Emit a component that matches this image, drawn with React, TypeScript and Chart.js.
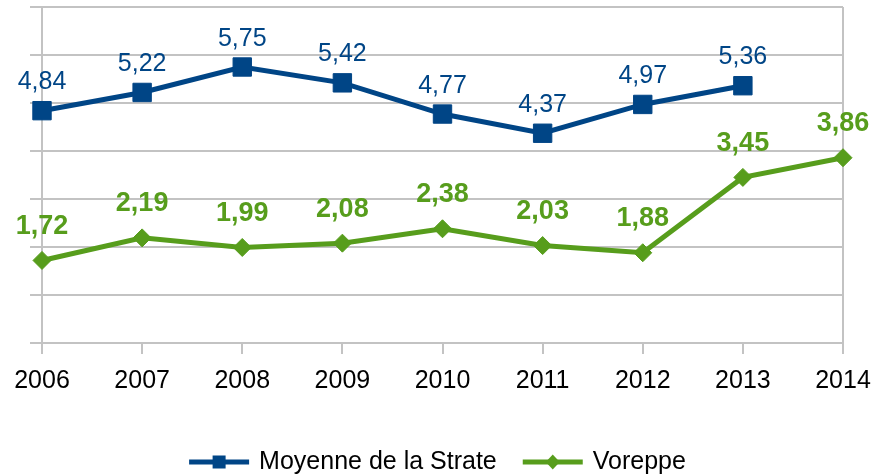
import React, { useEffect, useRef } from 'react';
import { Chart, registerables } from 'chart.js';

Chart.register(...registerables);

const years = ['2006', '2007', '2008', '2009', '2010', '2011', '2012', '2013', '2014'];
const moyenneStrate: (number | null)[] = [4.84, 5.22, 5.75, 5.42, 4.77, 4.37, 4.97, 5.36, null];
const voreppe: (number | null)[] = [1.72, 2.19, 1.99, 2.08, 2.38, 2.03, 1.88, 3.45, 3.86];
const seriesNames = ['Moyenne de la Strate', 'Voreppe'];
const yMin = 0;
const yMax = 7;
const yStep = 1;

const BLUE = '#004586';
const GREEN = '#579d1c';
const GRID = '#c3c3c3';
const FONT = "'Liberation Sans', Arial, sans-serif";

const fmt = (v: number) => v.toFixed(2).replace('.', ',');

const dataLabels = {
  id: 'dataLabels',
  afterDatasetsDraw(chart: any) {
    const ctx = chart.ctx;
    chart.data.datasets.forEach((ds: any, i: number) => {
      const meta = chart.getDatasetMeta(i);
      const bold = i === 1;
      ctx.save();
      ctx.font = `${bold ? 'bold 27px' : '25px'} ${FONT}`;
      ctx.fillStyle = ds.borderColor;
      ctx.textAlign = 'center';
      ctx.textBaseline = 'alphabetic';
      meta.data.forEach((pt: any, j: number) => {
        const v = ds.data[j];
        if (v == null) return;
        ctx.fillText(fmt(v), pt.x, pt.y - (bold ? 26.5 : 21.5));
      });
      ctx.restore();
    });
  },
};

const customLegend = {
  id: 'customLegend',
  afterDraw(chart: any) {
    const ctx = chart.ctx;
    ctx.save();
    ctx.font = `25px ${FONT}`;
    const sampleW = 60;
    const gapText = 10;
    const gapItems = 26;
    const items = chart.data.datasets.map((ds: any) => ({ ds, tw: ctx.measureText(ds.label).width }));
    const total =
      items.reduce((s: number, it: any) => s + sampleW + gapText + it.tw, 0) + gapItems * (items.length - 1);
    let x = (chart.width - total) / 2;
    const y = chart.height - 14;
    items.forEach(({ ds, tw }: any) => {
      ctx.strokeStyle = ds.borderColor;
      ctx.lineWidth = 5;
      ctx.beginPath();
      ctx.moveTo(x, y);
      ctx.lineTo(x + sampleW, y);
      ctx.stroke();
      ctx.fillStyle = ds.borderColor;
      const cx = x + sampleW / 2;
      if (ds.pointStyle === 'rect') {
        ctx.fillRect(cx - 6.5, y - 6.5, 13, 13);
      } else {
        ctx.beginPath();
        ctx.moveTo(cx - 7, y);
        ctx.lineTo(cx, y - 7.5);
        ctx.lineTo(cx + 7, y);
        ctx.lineTo(cx, y + 7.5);
        ctx.closePath();
        ctx.fill();
      }
      ctx.fillStyle = '#000';
      ctx.textAlign = 'left';
      ctx.textBaseline = 'middle';
      ctx.fillText(ds.label, x + sampleW + gapText, y);
      x += sampleW + gapText + tw + gapItems;
    });
    ctx.restore();
  },
};

export default function App() {
  const ref = useRef<HTMLCanvasElement | null>(null);
  useEffect(() => {
    document.body.style.margin = '0';
    if (!ref.current) return;
    const chart = new Chart(ref.current, {
      type: 'line',
      data: {
        labels: years,
        datasets: [
          {
            label: seriesNames[0],
            data: moyenneStrate,
            borderColor: BLUE,
            backgroundColor: BLUE,
            borderWidth: 5,
            pointStyle: 'rect',
            pointRadius: 13,
            pointHoverRadius: 13,
            pointBorderWidth: 1,
            pointBackgroundColor: BLUE,
            pointBorderColor: BLUE,
            tension: 0,
            clip: false,
          } as any,
          {
            label: seriesNames[1],
            data: voreppe,
            borderColor: GREEN,
            backgroundColor: GREEN,
            borderWidth: 5,
            pointStyle: 'rectRot',
            pointRadius: 9,
            pointHoverRadius: 9,
            pointBorderWidth: 1,
            pointBackgroundColor: GREEN,
            pointBorderColor: GREEN,
            tension: 0,
            clip: false,
          } as any,
        ],
      },
      options: {
        animation: false,
        responsive: false,
        maintainAspectRatio: false,
        layout: { autoPadding: false, padding: { left: 30, right: 32, top: 7, bottom: 68 } },
        plugins: {
          legend: { display: false },
          tooltip: { enabled: false },
        },
        scales: {
          x: {
            offset: false,
            afterFit: (s: any) => {
              s.paddingLeft = 0;
              s.paddingRight = 0;
            },
            grid: {
              color: (c: any) => (c.index === 0 || c.index === years.length - 1 ? GRID : 'rgba(0,0,0,0)'),
              tickColor: GRID,
              tickLength: 11,
              lineWidth: 2,
            },
            border: { display: true, color: GRID, width: 2 },
            ticks: {
              color: '#000',
              font: { size: 25, family: FONT },
              padding: 12,
              maxRotation: 0,
              autoSkip: false,
            },
          },
          y: {
            min: yMin,
            max: yMax,
            ticks: { stepSize: yStep, display: false },
            grid: { color: GRID, tickColor: GRID, tickLength: 12, lineWidth: 2 },
            border: { display: true, color: GRID, width: 2 },
          },
        },
      },
      plugins: [dataLabels, customLegend],
    });
    return () => chart.destroy();
  }, []);
  return (
    <div style={{ width: 875, height: 476 }}>
      <canvas ref={ref} width={875} height={476} style={{ display: 'block' }} />
    </div>
  );
}
